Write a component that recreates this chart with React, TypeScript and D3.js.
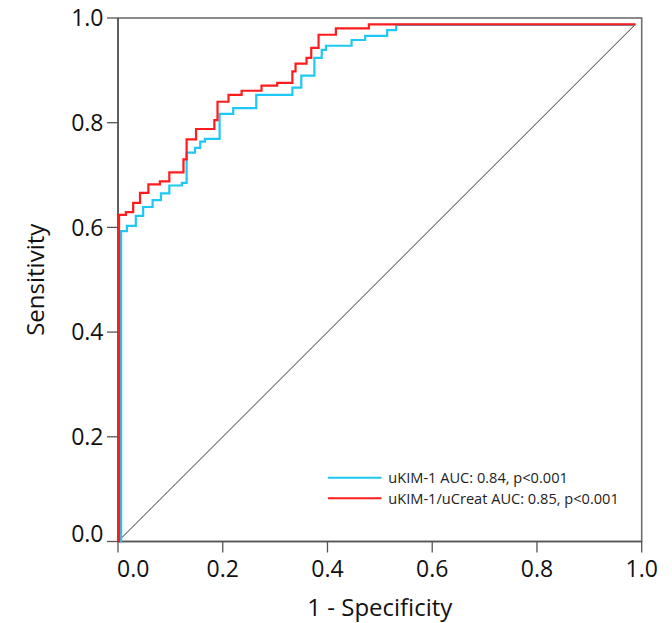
import * as d3 from 'd3'

// ROC points (1 - specificity, sensitivity)
const kimFpr = [0, 0.006, 0.017, 0.034, 0.048, 0.066, 0.082, 0.098, 0.122, 0.131, 0.147, 0.157, 0.166, 0.194, 0.220, 0.264, 0.333, 0.350, 0.375, 0.389, 0.397, 0.446, 0.472, 0.514, 0.531, 0.988]
const kimTpr = [0, 0.593, 0.603, 0.622, 0.639, 0.652, 0.665, 0.680, 0.685, 0.743, 0.752, 0.764, 0.769, 0.817, 0.828, 0.853, 0.867, 0.890, 0.924, 0.939, 0.947, 0.958, 0.966, 0.977, 0.987, 0.987]

const ratioFpr = [0, 0.002, 0.015, 0.029, 0.042, 0.058, 0.080, 0.098, 0.125, 0.131, 0.149, 0.184, 0.190, 0.211, 0.236, 0.274, 0.304, 0.333, 0.339, 0.360, 0.369, 0.383, 0.416, 0.479, 0.988]
const ratioTpr = [0, 0.624, 0.629, 0.647, 0.666, 0.682, 0.688, 0.705, 0.730, 0.768, 0.788, 0.805, 0.840, 0.853, 0.861, 0.871, 0.876, 0.898, 0.913, 0.924, 0.943, 0.968, 0.980, 0.988, 0.988]

const refLine = [0, 0.988]
const ticks = [0, 0.2, 0.4, 0.6, 0.8, 1.0]
const seriesNames = ['uKIM-1 AUC: 0.84, p<0.001', 'uKIM-1/uCreat AUC: 0.85, p<0.001']
const seriesColors = ['#1ec8f5', '#ff1c1c']

const App = () => {
  const width = 672
  const height = 623
  const x = d3.scaleLinear().domain([0, 1]).range([118, 641.7])
  const y = d3.scaleLinear().domain([0, 1]).range([541.5, 18])
  const font = "'Open Sans', sans-serif"

  const line = d3.line<[number, number]>()
    .x(d => x(d[0]))
    .y(d => y(d[1]))
    .curve(d3.curveStepAfter)

  const kimPts = kimFpr.map((v, i) => [v, kimTpr[i]] as [number, number])
  const ratioPts = ratioFpr.map((v, i) => [v, ratioTpr[i]] as [number, number])
  const [x0, x1] = x.range()
  const [y0, y1] = y.range()

  return (
    <svg width={width} height={height} style={{ position: 'absolute', left: 0, top: 0, background: '#fff' }} fontFamily={font}>
      {/* frame */}
      <rect x={x0} y={y1} width={x1 - x0} height={y0 - y1} fill="none" stroke="#6e6e6e" strokeWidth={1.6} />
      <line x1={x0} x2={x1} y1={y0} y2={y0} stroke="#555" strokeWidth={1.6} />
      <line x1={x0} x2={x0} y1={y0} y2={y1} stroke="#555" strokeWidth={1.6} />

      {/* y ticks */}
      {ticks.map((t, i) => (
        <g key={'y' + t}>
          <line x1={x0 - 11} x2={x0} y1={y(t)} y2={y(t)} stroke="#555" strokeWidth={1.3} />
          <text x={103.5} y={i === 0 ? y(t) : y(t) + 8.2} textAnchor="end" fontSize={23} fill="#111">{t.toFixed(1)}</text>
        </g>
      ))}

      {/* x ticks */}
      {ticks.map((t, i) => (
        <g key={'x' + t}>
          <line x1={x(t)} x2={x(t)} y1={y0} y2={y0 + 11} stroke="#555" strokeWidth={1.3} />
          <text x={i === 0 ? x(t) - 1 : x(t)} y={576.7} textAnchor={i === 0 ? 'start' : 'middle'} fontSize={23} fill="#111">{t.toFixed(1)}</text>
        </g>
      ))}

      {/* reference diagonal */}
      <line x1={x(refLine[0])} y1={y(refLine[0])} x2={x(refLine[1])} y2={y(refLine[1])} stroke="#333" strokeWidth={1} />

      {/* ROC curves */}
      <path d={line(kimPts) || ''} fill="none" stroke={seriesColors[0]} strokeWidth={2.2} />
      <path d={line(ratioPts) || ''} fill="none" stroke={seriesColors[1]} strokeWidth={2.2} />

      {/* legend */}
      {seriesNames.map((name, i) => (
        <g key={name} transform={`translate(328, ${477.7 + i * 20.6})`}>
          <line x1={0} x2={53.5} y1={0} y2={0} stroke={seriesColors[i]} strokeWidth={2} />
          <text x={60.3} y={5.2} fontSize={14.6} fill="#222">{name}</text>
        </g>
      ))}

      {/* axis titles */}
      <text x={(x0 + x1) / 2} y={616} textAnchor="middle" fontSize={24} fill="#111">1 - Specificity</text>
      <text transform={`translate(43.5, ${(y0 + y1) / 2}) rotate(-90)`} textAnchor="middle" fontSize={24} fill="#111">Sensitivity</text>
    </svg>
  )
}

export default App
